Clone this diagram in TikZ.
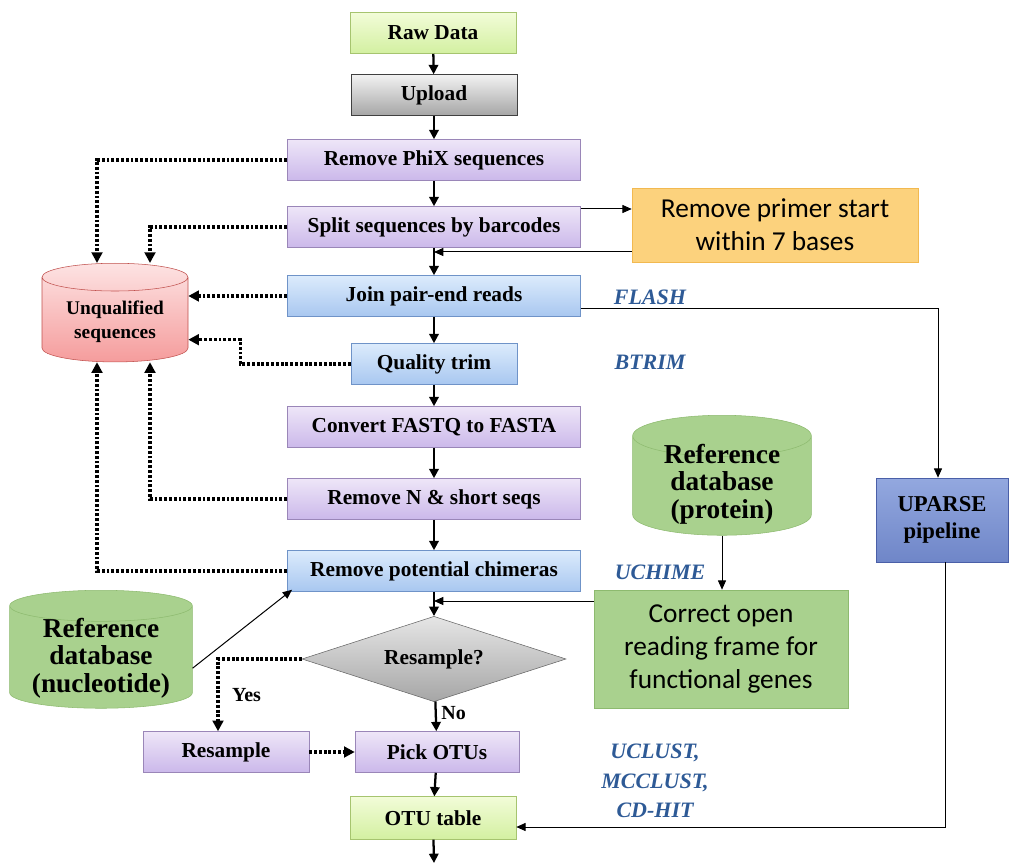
\documentclass[tikz,border=0pt]{standalone}
\usepackage{fontspec}
\setmainfont{Liberation Serif}
\newfontfamily\calibri{Carlito}
\usetikzlibrary{shapes.geometric,arrows.meta,calc}

\definecolor{lilacTop}{HTML}{EEE6F8}
\definecolor{lilacBot}{HTML}{CBB8EA}
\definecolor{lilacLine}{HTML}{9A86B8}
\definecolor{skyTop}{HTML}{DCEBFC}
\definecolor{skyBot}{HTML}{A8C7F0}
\definecolor{skyLine}{HTML}{6F93C8}
\definecolor{limeTop}{HTML}{F2FCD8}
\definecolor{limeBot}{HTML}{D3F0A1}
\definecolor{limeLine}{HTML}{A6C46F}
\definecolor{leafFill}{HTML}{A9D18E}
\definecolor{leafLine}{HTML}{8DBA6F}
\definecolor{roseTop}{HTML}{FDE3E3}
\definecolor{roseBot}{HTML}{F59C9C}
\definecolor{roseLine}{HTML}{C0504D}
\definecolor{amberFill}{HTML}{FCD27D}
\definecolor{amberLine}{HTML}{F2B950}
\definecolor{navyTop}{HTML}{93A8DF}
\definecolor{navyBot}{HTML}{6F86C8}
\definecolor{navyLine}{HTML}{4A5FA8}
\definecolor{toolText}{HTML}{2E5A96}

\begin{document}
\begin{tikzpicture}[x=0.75pt,y=-0.75pt]
  \tikzstyle{proc}=[draw, minimum height=30.75pt, inner sep=2pt,
    font=\bfseries\fontsize{16}{18}\selectfont]
  \tikzstyle{wide}=[proc, minimum width=220pt]
  \tikzstyle{narrow}=[proc, minimum width=124.5pt]
  \tikzstyle{lilac}=[top color=lilacTop, bottom color=lilacBot, draw=lilacLine]
  \tikzstyle{sky}=[top color=skyTop, bottom color=skyBot, draw=skyLine]
  \tikzstyle{lime}=[top color=limeTop, bottom color=limeBot, draw=limeLine]
  \tikzstyle{steel}=[top color=white!95!black, bottom color=black!35, draw=black!75]
  \tikzstyle{db}=[cylinder, shape border rotate=90, draw, anchor=north, inner sep=0pt]
  \tikzstyle{dbtext}=[align=center, font=\bfseries\fontsize{20.5}{20.5}\selectfont]
  \tikzstyle{note}=[draw, align=center, font=\calibri\fontsize{20.5}{25}\selectfont]
  \tikzstyle{tool}=[text=toolText, align=center,
    font=\bfseries\itshape\fontsize{16.5}{22}\selectfont]
  \tikzstyle{answer}=[font=\bfseries\fontsize{15}{18}\selectfont]
  \tikzstyle{flow}=[line width=1.7pt, -{Triangle[length=7pt,width=7pt]}]
  \tikzstyle{reject}=[line width=2.5pt, dash pattern=on 2.2pt off 1.4pt,
    -{Triangle[length=8pt,width=8pt]}]
  \tikzstyle{link}=[line width=0.75pt, -{Triangle[length=7pt,width=6pt]}]

  \useasboundingbox (0,0) rectangle (1011,863);

  % main column
  \node[narrow, lime]  (raw)      at (433,33)  {Raw Data};
  \node[narrow, steel] (upload)   at (434,95)  {Upload};
  \node[wide, lilac]   (phix)     at (434,160) {Remove PhiX sequences};
  \node[wide, lilac]   (split)    at (434,227) {Split sequences by barcodes};
  \node[wide, sky]     (join)     at (434,296) {Join pair-end reads};
  \node[narrow, sky]   (trim)     at (434,364) {Quality trim};
  \node[wide, lilac]   (fasta)    at (434,427) {Convert FASTQ to FASTA};
  \node[wide, lilac]   (short)    at (434,499) {Remove N \& short seqs};
  \node[wide, sky]     (chim)     at (434,571) {Remove potential chimeras};
  \node[diamond, draw, aspect=3.1, minimum width=198pt, minimum height=64pt,
    inner sep=0pt, top color=white!90!black, bottom color=black!35,
    draw=black!60, font=\bfseries\fontsize{16}{18}\selectfont]
                       (check)    at (434,659) {Resample?};
  \node[narrow, lilac] (resample) at (226,752) {Resample};
  \node[proc, lilac, minimum width=123pt] (otus) at (437,752) {Pick OTUs};
  \node[narrow, lime, minimum height=32pt] (table) at (433,818) {OTU table};
  \coordinate (out) at (434,863);

  % side nodes
  \node[db, aspect=0.19, text width=109.5pt, minimum height=74pt,
    top color=roseTop, bottom color=roseBot, draw=roseLine] (unq) at (115,263) {};
  \node[align=center, font=\bfseries\fontsize{14.5}{18}\selectfont]
    (unqText) at (115,322) {Unqualified\\sequences};
  \node[note, fill=amberFill, draw=amberLine, minimum width=214.5pt,
    minimum height=55.5pt] (primer) at (775,225) {Remove primer start\\within 7 bases};
  \node[db, aspect=0.23, text width=134pt, minimum height=90pt,
    fill=leafFill, draw=leafLine] (protein) at (722,415) {};
  \node[dbtext] (proteinText) at (722,484) {Reference\\database\\(protein)};
  \node[note, fill=leafFill, draw=leafLine, minimum width=190.5pt,
    minimum height=88.5pt] (correct) at (721,649) {Correct open\\reading frame for\\functional genes};
  \node[proc, align=center, top color=navyTop, bottom color=navyBot, draw=navyLine,
    minimum width=99pt, minimum height=63pt, font=\bfseries\fontsize{17}{20}\selectfont]
    (uparse) at (942,520) {UPARSE\\pipeline};
  \node[db, aspect=0.17, text width=137pt, minimum height=88.5pt,
    fill=leafFill, draw=leafLine] (nucl) at (101,590) {};
  \node[dbtext] (nuclText) at (101,658) {Reference\\database\\(nucleotide)};

  % tool names
  \node[tool] (flash)  at (650,297) {FLASH};
  \node[tool] (btrim)  at (650,362) {BTRIM};
  \node[tool] (uchime) at (660,572) {UCHIME};
  \node[tool] (clust)  at (655,781) {UCLUST,\\MCCLUST,\\CD-HIT};

  % main flow
  \draw[flow] (raw) -- (upload);
  \draw[flow] (upload) -- (phix);
  \draw[flow] (phix) -- (split);
  \draw[flow] (split) -- (join);
  \draw[flow] (join) -- (trim);
  \draw[flow] (trim) -- (fasta);
  \draw[flow] (fasta) -- (short);
  \draw[flow] (short) -- (chim);
  \draw[flow] (chim) -- (check);
  \draw[flow] (check) -- node[pos=0.4, right, answer] {No} (otus);
  \draw[flow] (otus) -- (table);
  \draw[flow] (table) -- (out);

  % discarded reads
  \draw[reject] (phix.west) -| ($(unq.north)+(-18,0)$);
  \draw[reject] (split.west) -| ($(unq.north)+(35,0)$);
  \draw[reject] (join.west) -- (join.west -| unq.east);
  \draw[reject] (trim.west) -| ($(unq.east)+(52,20)$) -- ($(unq.east)+(0,20)$);
  \draw[reject] (short.west) -| ($(unq.south)+(35,0)$);
  \draw[reject] (chim.west) -| ($(unq.south)+(-18,0)$);
  \draw[reject] (check.west) -| node[pos=0.75, right, xshift=6pt, answer] {Yes}
    ($(resample.north)+(-8,0)$);
  \draw[reject] (resample) -- (otus);

  % side links
  \draw[link] ($(split.east)+(0,-18)$) coordinate (s1) -- (s1 -| primer.west);
  \draw[link] ($(primer.west)+(0,27)$) coordinate (p1) -- (p1 -| split.south);
  \draw[link] ($(join.east)+(0,12)$) -| ($(uparse.north)+(-4,0)$);
  \draw[link] ($(uparse.south)+(3,0)$) |- ($(table.east)+(0,9)$);
  \draw[link] (protein.south) -- (protein.south |- correct.north);
  \draw[link] ($(correct.west)+(0,-48)$) coordinate (c1) -- (c1 -| chim.south);
  \draw[link] ($(nucl.east)+(0,11)$) -- ($(chim.south west)+(5,-2)$);
\end{tikzpicture}
\end{document}
